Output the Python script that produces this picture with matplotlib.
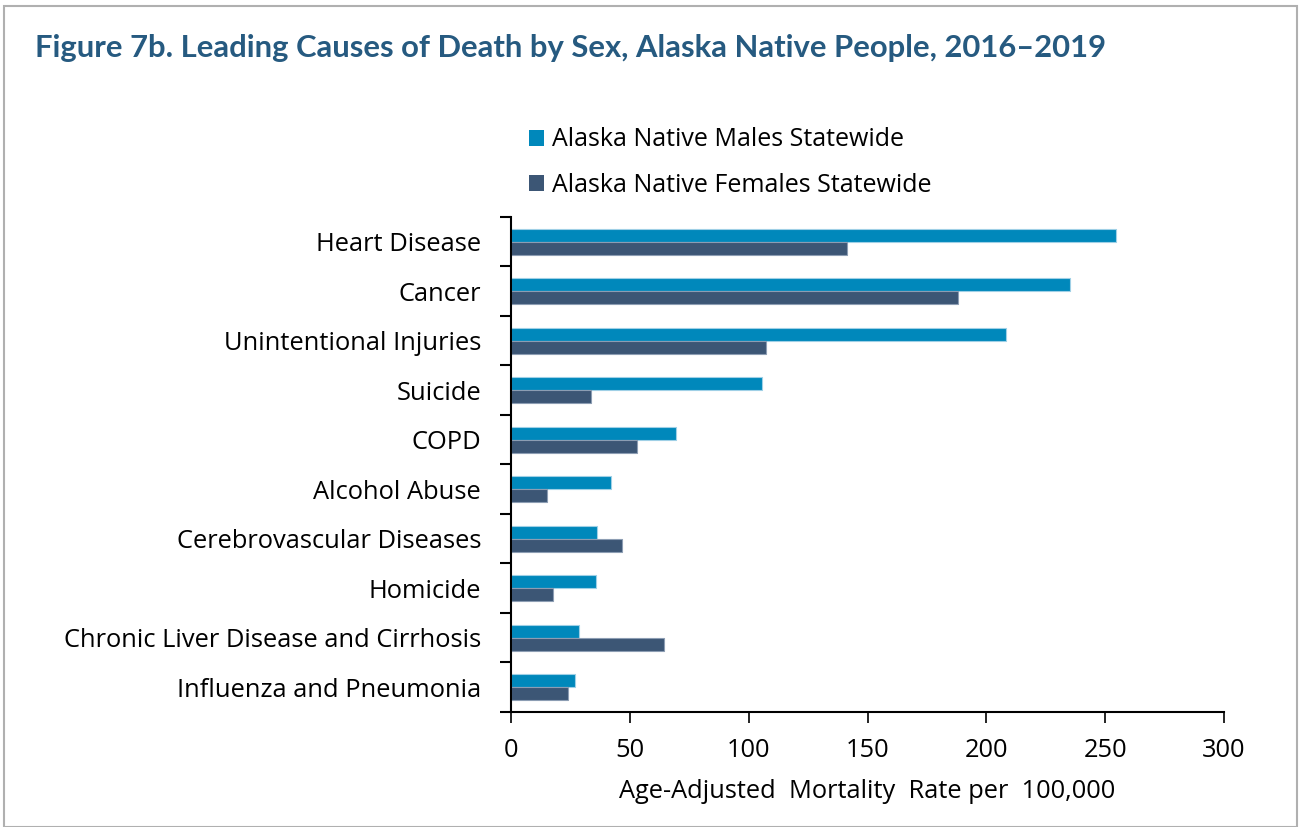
import matplotlib
matplotlib.use("Agg")
import matplotlib.pyplot as plt
import numpy as np
from matplotlib.patches import Rectangle

categories = ["Heart Disease", "Cancer", "Unintentional Injuries", "Suicide", "COPD",
              "Alcohol Abuse", "Cerebrovascular Diseases", "Homicide",
              "Chronic Liver Disease and Cirrhosis", "Influenza and Pneumonia"]
males = [254.5, 235.2, 208.3, 105.6, 69.3, 41.9, 36.3, 35.8, 28.7, 26.8]
females = [141.4, 188.1, 107.3, 33.7, 52.9, 15.1, 46.7, 17.8, 64.5, 24.1]
series_labels = ["Alaska Native Males Statewide", "Alaska Native Females Statewide"]
xticks = [0, 50, 100, 150, 200, 250, 300]
title = "Figure 7b. Leading Causes of Death by Sex, Alaska Native People, 2016\u20132019"
xlabel = "Age-Adjusted  Mortality  Rate per  100,000"

c_male = "#0088BB"
c_female = "#3C5675"
font = ["Open Sans", "DejaVu Sans"]
plt.rcParams['font.family'] = font

W, H = 1302, 827
fig = plt.figure(figsize=(W / 100, H / 100), dpi=100)
ax = fig.add_axes([511 / W, 1 - 712 / H, (1224 - 511) / W, (712 - 217) / H])

n = len(categories)
y = np.arange(n)
bh = 0.26
ax.barh(y - bh / 2, males, height=bh, color=c_male, edgecolor="#9fd0e6", linewidth=0.8, label=series_labels[0])
ax.barh(y + bh / 2, females, height=bh, color=c_female, edgecolor="#8c9db3", linewidth=0.8, label=series_labels[1])
ax.set_ylim(n - 0.5, -0.5)
ax.set_xlim(0, 300)
ax.set_xticks(xticks)
ax.set_xticklabels([str(t) for t in xticks], fontsize=18.3)
ax.set_yticks(y)
ax.set_yticklabels(categories, fontsize=18.4)
ax.tick_params(axis="y", length=0, pad=21.5)
ax.set_yticks(np.arange(-0.5, n, 1.0), minor=True)
ax.tick_params(axis="y", which="minor", length=8, width=1.5, direction="out")
ax.tick_params(axis="x", length=8, width=1.2, direction="out", pad=10.5)
for s in ["top", "right"]:
    ax.spines[s].set_visible(False)
ax.spines["left"].set_linewidth(1.5)
ax.spines["bottom"].set_linewidth(1.5)
ax.set_xlabel(xlabel, fontsize=18.3, labelpad=12)

fig.text(35 / W, 1 - 48 / H, title, fontsize=22.3, fontweight="bold", color="#265A80",
         va="center", ha="left", family=["Lato", "DejaVu Sans"])

leg = fig.legend(loc="upper left", bbox_to_anchor=(506 / W, 1 - 105 / H), frameon=False,
                 fontsize=18, handlelength=0.6, handleheight=0.6, handletextpad=0.35,
                 labelspacing=0.8)
for h in leg.legend_handles:
    h.set_edgecolor("none")

fig.patches.append(Rectangle((4 / W, 0), (1297 - 4) / W, (H - 6) / H, transform=fig.transFigure,
                             fill=False, edgecolor="#b0b0b0", linewidth=1.5))
fig.savefig("out.png", dpi=100)
